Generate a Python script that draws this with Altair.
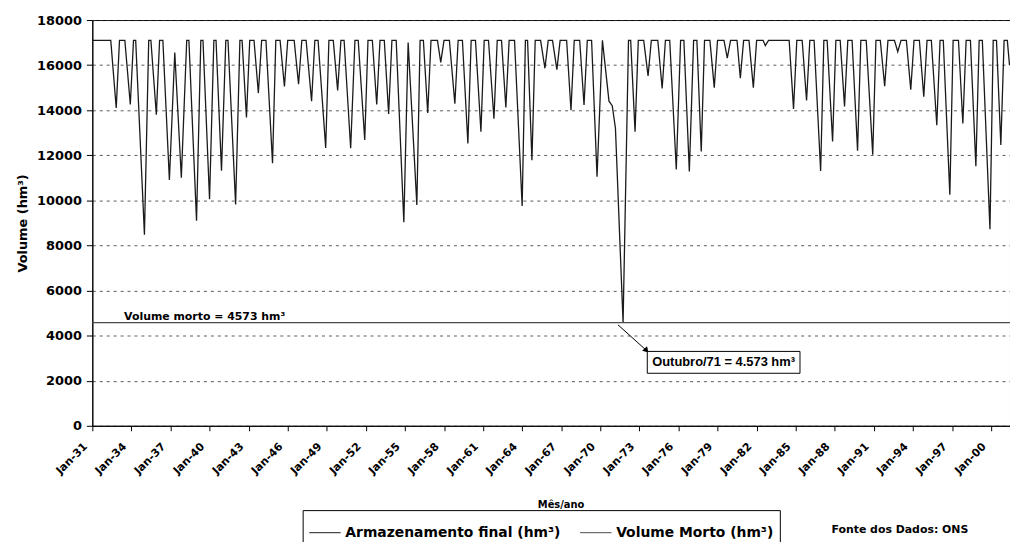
import altair as alt
import pandas as pd

# ---------------- data ----------------
STORAGE_DATES = [
    "1931-01", "1932-06", "1932-11", "1933-02", "1933-07", "1933-12", "1934-03", "1934-05", "1935-01", "1935-05",
    "1935-07", "1935-12", "1936-03", "1936-06", "1936-12", "1937-05", "1937-11", "1938-04", "1938-06", "1939-01",
    "1939-05", "1939-07", "1940-01", "1940-05", "1940-07", "1940-12", "1941-04", "1941-06", "1942-01", "1942-05",
    "1942-07", "1942-11", "1943-02", "1943-06", "1943-10", "1944-01", "1944-05", "1944-11", "1945-02", "1945-06",
    "1945-10", "1946-01", "1946-07", "1946-11", "1947-02", "1947-06", "1947-11", "1948-02", "1948-05", "1948-12",
    "1949-03", "1949-07", "1949-11", "1950-02", "1950-05", "1950-11", "1951-03", "1951-06", "1951-12", "1952-03",
    "1952-07", "1952-11", "1953-02", "1953-06", "1953-10", "1954-01", "1954-05", "1954-12", "1955-04", "1955-12",
    "1956-03", "1956-06", "1956-10", "1957-01", "1957-07", "1957-10", "1958-01", "1958-06", "1958-11", "1959-02",
    "1959-06", "1959-11", "1960-02", "1960-06", "1960-11", "1961-02", "1961-06", "1961-11", "1962-02", "1962-06",
    "1962-10", "1963-01", "1963-06", "1964-01", "1964-04", "1964-06", "1964-10", "1965-01", "1965-06", "1965-10",
    "1966-01", "1966-05", "1966-09", "1966-12", "1967-06", "1967-10", "1968-01", "1968-06", "1968-10", "1969-01",
    "1969-05", "1969-10", "1970-03", "1970-09", "1970-12", "1971-03", "1971-10", "1972-03", "1972-05", "1972-09",
    "1972-12", "1973-05", "1973-09", "1973-12", "1974-06", "1974-10", "1975-01", "1975-05", "1975-11", "1976-03",
    "1976-06", "1976-11", "1977-03", "1977-06", "1977-10", "1978-01", "1978-06", "1978-10", "1979-01", "1979-07",
    "1979-10", "1980-01", "1980-07", "1980-10", "1981-01", "1981-06", "1981-10", "1982-01", "1982-07", "1982-09",
    "1982-12", "1984-07", "1984-11", "1985-02", "1985-07", "1985-11", "1986-02", "1986-06", "1986-12", "1987-03",
    "1987-06", "1987-11", "1988-02", "1988-06", "1988-10", "1989-01", "1989-05", "1989-10", "1990-01", "1990-06",
    "1990-12", "1991-03", "1991-07", "1991-11", "1992-02", "1992-08", "1992-11", "1993-02", "1993-07", "1993-11",
    "1994-02", "1994-07", "1994-11", "1995-02", "1995-06", "1995-11", "1996-02", "1996-05", "1996-11", "1997-02",
    "1997-07", "1997-11", "1998-02", "1998-06", "1998-11", "1999-02", "1999-05", "1999-12", "2000-03", "2000-06",
    "2000-10", "2001-01", "2001-04", "2001-06",
]
STORAGE_VALUES = [
    17100, 17100, 14100, 17100, 17100, 14250, 17100, 17100, 8480, 17100,
    17100, 13800, 17100, 17100, 10900, 16560, 11000, 17100, 17100, 9100,
    17100, 17100, 10050, 17100, 17100, 11320, 17100, 17100, 9820, 17100,
    17100, 13680, 17100, 17100, 14760, 17100, 17100, 11650, 17100, 17100,
    15050, 17100, 17100, 15150, 17100, 17100, 14400, 17100, 17100, 12320,
    17100, 17100, 14880, 17100, 17100, 12310, 17100, 17100, 12680, 17100,
    17100, 14250, 17100, 17100, 13830, 17100, 17100, 9030, 17000, 9800,
    17100, 17100, 13880, 17100, 17100, 16120, 17100, 17100, 14290, 17100,
    17100, 12520, 17100, 17100, 13050, 17100, 17100, 13620, 17100, 17100,
    14120, 17100, 17100, 9750, 17100, 17100, 11780, 17100, 17100, 15860,
    17100, 17100, 15800, 17100, 17100, 14000, 17100, 17100, 14230, 17100,
    17100, 11050, 17100, 14400, 14200, 13200, 4573, 17100, 17100, 13050,
    17100, 17100, 15520, 17100, 17100, 14960, 17100, 17100, 11370, 17100,
    17100, 11280, 17100, 17100, 12170, 17100, 17100, 15000, 17100, 17100,
    16310, 17100, 17100, 15420, 17100, 17100, 15000, 17100, 17100, 16870,
    17100, 17100, 14060, 17100, 17100, 14430, 17100, 17100, 11300, 17100,
    17100, 12610, 17100, 17100, 14170, 17100, 17100, 12200, 17100, 17100,
    12030, 17100, 17100, 15060, 17100, 17100, 16600, 17100, 17100, 14910,
    17100, 17100, 14600, 17100, 17100, 13330, 17100, 17100, 10250, 17100,
    17100, 13410, 17100, 17100, 11520, 17100, 17100, 8720, 17100, 17100,
    12460, 17100, 17100, 16000,
]
DEAD_VOLUME = 4573
DEAD_DATES = ["1931-01-01", "2001-06-15"]
SERIES = ["Armazenamento final (hm³)", "Volume Morto (hm³)"]
SERIES_COLORS = ["#1a1a1a", "#4a4a4a"]
TICK_YEARS = [1931, 1934, 1937, 1940, 1943, 1946, 1949, 1952, 1955, 1958, 1961, 1964,
              1967, 1970, 1973, 1976, 1979, 1982, 1985, 1988, 1991, 1994, 1997, 2000]
Y_TICKS = [0, 2000, 4000, 6000, 8000, 10000, 12000, 14000, 16000, 18000]

DEAD_LABEL = "Volume morto = 4573 hm³"
DEAD_LABEL_DATE = "1933-06-10"
MIN_LABEL = "Outubro/71 = 4.573 hm³"
ARROW_DATES = ["1971-05-10", "1973-07-20"]
ARROW_VALUES = [4480, 3340]
BOX_DATES = ["1973-08-10", "1985-05-01"]
BOX_VALUES = [3300, 2330]
BOX_TEXT_DATE = "1979-06-20"
BOX_TEXT_VALUE = 2815
SOURCE = "Fonte dos Dados: ONS"

assert len(STORAGE_DATES) == len(STORAGE_VALUES)

# ---------------- tables ----------------
lines_df = pd.DataFrame({
    "date": [d + "-01" for d in STORAGE_DATES] + DEAD_DATES,
    "value": STORAGE_VALUES + [DEAD_VOLUME, DEAD_VOLUME],
    "series": [SERIES[0]] * len(STORAGE_DATES) + [SERIES[1]] * 2,
    "order": list(range(len(STORAGE_DATES))) + [0, 1],
})
dead_label_df = pd.DataFrame({"date": [DEAD_LABEL_DATE], "value": [DEAD_VOLUME], "label": [DEAD_LABEL]})
arrow_df = pd.DataFrame({"date": [ARROW_DATES[0]], "value": [ARROW_VALUES[0]],
                         "date2": [ARROW_DATES[1]], "value2": [ARROW_VALUES[1]]})
head_df = pd.DataFrame({"date": [ARROW_DATES[1]], "value": [ARROW_VALUES[1]]})
box_df = pd.DataFrame({"date": [BOX_DATES[0]], "value": [BOX_VALUES[0]],
                       "date2": [BOX_DATES[1]], "value2": [BOX_VALUES[1]]})
box_text_df = pd.DataFrame({"date": [BOX_TEXT_DATE], "value": [BOX_TEXT_VALUE], "label": [MIN_LABEL]})
source_df = pd.DataFrame({"label": [SOURCE]})

FONT = "DejaVu Sans"

x_axis = alt.Axis(
    values=[alt.DateTime(year=y, month=1, date=1, utc=True) for y in TICK_YEARS],
    labelExpr="utcFormat(datum.value, '%b-%y')", title="Mês/ano",
    labelAngle=315, labelAlign="right", labelBaseline="middle", labelOffset=-7,
    labelPadding=14, tickSize=5, labelFontSize=11, labelOverlap=False, labelFlush=False,
    titleFontSize=10, titleX=472, titleY=79, titleBaseline="middle", grid=False,
)
y_axis = alt.Axis(
    values=Y_TICKS, format="d", title="Volume (hm³)", grid=True,
    gridDash=[3, 4], gridColor="#333333", gridWidth=0.8,
    tickSize=6, labelPadding=5, labelFontSize=13, titleFontSize=13, titlePadding=7,
)
x_scale = alt.Scale(type="utc", domain=[alt.DateTime(year=1931, month=1, date=1, utc=True),
                                        alt.DateTime(year=2001, month=6, date=15, utc=True)])
y_scale = alt.Scale(domain=[0, 18000], nice=False)

X = alt.X("date:T", scale=x_scale, axis=x_axis)
Y = alt.Y("value:Q", scale=y_scale, axis=y_axis)

lines = alt.Chart(lines_df).mark_line(strokeWidth=1.3).encode(
    x=X, y=Y,
    order="order:Q",
    color=alt.Color("series:N",
                    scale=alt.Scale(domain=SERIES, range=SERIES_COLORS),
                    legend=alt.Legend(
                        title=None, orient="none", legendX=212, legendY=494,
                        direction="horizontal", symbolType="stroke", symbolSize=1000,
                        symbolStrokeWidth=1, labelFont=FONT, labelFontWeight="bold",
                        labelFontSize=14, labelColor="black", strokeColor="black",
                        fillColor="white", padding=6, columnPadding=16, labelLimit=400,
                        labelOffset=4)),
)

dead_text = alt.Chart(dead_label_df).mark_text(
    align="left", baseline="bottom", dy=-1, font=FONT, fontWeight="bold", fontSize=11, color="black"
).encode(x=X, y=Y, text="label:N")

arrow = alt.Chart(arrow_df).mark_rule(color="black", strokeWidth=1).encode(
    x=X, y=Y, x2="date2:T", y2="value2:Q")
head = alt.Chart(head_df).mark_point(shape="triangle-up", filled=True, angle=137, size=45,
                                     color="black", opacity=1).encode(x=X, y=Y)
box = alt.Chart(box_df).mark_rect(fill="white", stroke="black", strokeWidth=1).encode(
    x=X, y=Y, x2="date2:T", y2="value2:Q")
box_text = alt.Chart(box_text_df).mark_text(
    align="center", baseline="middle", font="Liberation Sans", fontWeight="bold", fontSize=13, color="black"
).encode(x=X, y=Y, text="label:N")

source = alt.Chart(source_df).mark_text(
    align="left", baseline="middle", font=FONT, fontWeight="bold", fontSize=11, color="black"
).encode(x=alt.value(745), y=alt.value(514), text="label:N")

chart = alt.layer(lines, dead_text, arrow, head, box, box_text, source).properties(
    width=925, height=409,
    autosize=alt.AutoSizeParams(type="none"),
    padding={"left": 85, "top": 10, "right": 0, "bottom": 115},
    background="white",
).configure_view(stroke="black", strokeWidth=1).configure_axis(
    domainColor="black", tickColor="black", labelColor="black", titleColor="black",
    labelFont=FONT, labelFontWeight="bold", titleFont=FONT, titleFontWeight="bold",
    domainWidth=1,
)

chart.save("out.html", embed_options={"renderer": "svg", "actions": False})
